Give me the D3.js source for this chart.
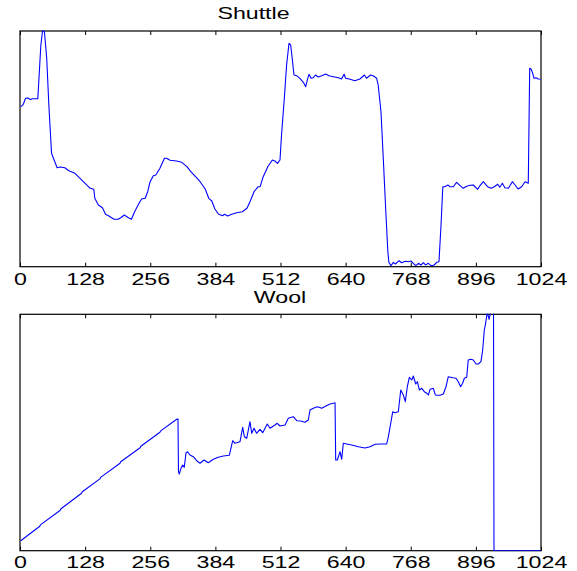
<!DOCTYPE html>
<html>
<head>
<meta charset="utf-8">
<script src="https://cdn.jsdelivr.net/npm/d3@7"></script>
<style>
  html, body { margin: 0; padding: 0; background: #fff; }
  svg { display: block; }
</style>
</head>
<body>
<svg id="chart" width="577" height="571"></svg>
<script>
// ---------------- data ----------------
const xTicks = [0, 128, 256, 384, 512, 640, 768, 896, 1024];
const panelTitles = ["Shuttle", "Wool"];

const shuttleX = [2, 6.5, 11, 16, 20, 24, 35, 41, 44.6, 48, 52.5, 57, 62, 67, 73, 79, 88, 96, 108, 118, 128, 138, 145, 147, 154, 162, 168, 174, 180, 185, 193, 198, 205, 213, 219, 226, 234, 239, 246, 251, 255.5, 262, 267, 275, 284, 288, 295, 308, 318, 328, 337, 347, 354, 364, 371, 377, 383, 390, 398, 402, 408, 416, 426, 437, 446, 452, 460, 468, 472, 478, 487, 496, 501, 506, 511, 514, 519.5, 524, 528.7, 532, 535, 538.5, 544, 550, 557, 561.5, 565.5, 568, 572, 576.5, 581, 586, 593, 601, 607, 616, 626, 632, 637, 640, 649, 658, 668, 677, 681, 689, 694, 701, 704, 709.5, 714, 719, 723, 725, 729, 734, 738, 745, 750, 757, 763, 768.5, 773, 778, 783, 788, 793, 797, 802.5, 808, 814, 819, 823.5, 827.5, 831, 835, 841, 845, 852, 858, 865, 871, 878, 884.5, 891, 899.6, 904, 910.6, 919, 926, 932, 939, 943, 948, 953, 960, 967.6, 973, 979, 986, 992.6, 999, 1000.4, 1001.8, 1004.4, 1007.7, 1010.3, 1014.2, 1018.7, 1023];
const shuttleY = [160, 162.4, 168.4, 168.7, 167, 168, 168, 221.7, 236.7, 235, 208.4, 158.7, 113.4, 106.7, 99, 99.7, 99, 96, 93.4, 88.4, 83.4, 78.4, 77.4, 68.4, 61.7, 59, 52.4, 51, 49, 47.4, 47.4, 49, 51.7, 49, 47.4, 55.7, 63.4, 67.7, 68.4, 75, 84.7, 91, 91.7, 98.4, 108.4, 108.4, 106.4, 105.7, 104.4, 100, 94.4, 89, 85, 77.7, 68.4, 65.7, 57.7, 52.7, 51, 52.4, 50.7, 52.4, 54, 55, 58.4, 65, 75, 80, 80, 90, 100, 106.7, 105.7, 103.4, 106.7, 131.7, 168.4, 201.7, 223.4, 221.7, 208.4, 191.7, 191, 188.4, 184.4, 180, 188.4, 192.4, 188.4, 189, 191.7, 189.7, 191, 192.7, 191, 190, 189, 187.7, 192.4, 188.4, 187.4, 186, 187.7, 191.7, 188.4, 191.7, 191, 188.4, 181.7, 155, 108.4, 55, 15, 4.4, 1, 4.4, 2.7, 6, 4, 5.4, 5, 5.7, 3.4, 1, 3.4, 1.7, 4, 1.7, 3.4, 1, 1.7, 4.4, 5, 41.7, 80, 80, 81.7, 80, 80, 84.4, 81, 78.4, 80.4, 81.4, 81.7, 77.4, 81, 85, 80, 78.4, 80, 82.4, 79.4, 83.4, 79, 78.4, 85, 81.7, 77.7, 80, 85, 83.4, 141.7, 198.4, 197.7, 193.4, 188.4, 189, 187.7, 187.4];

const woolX = [
  1.4, 39, 40, 78.6, 80, 121, 122.5, 157, 158.5, 196.6,
  198, 236, 237.5, 275, 276.5, 308, 310.5, 311.5, 313, 316.4,
  319.8, 322.9, 326.3, 329.6, 334, 340.6, 347.3, 353.8, 361.7, 370,
  380, 389.8, 399.6, 411.4, 418, 422.6, 432.4, 437.7, 441, 445.6,
  452, 455.4, 460, 465, 471.7, 477, 486, 491.4, 501, 505.7,
  511, 521, 527.3, 537, 544, 551.7, 560, 566.7, 570, 576.5,
  584.4, 593, 601.4, 608, 615.8, 619.2, 620.5, 623.7, 629, 632.3,
  635.5, 642, 652, 665, 678, 688, 698, 707.6, 720.8, 724,
  728.6, 732.6, 737, 743.6, 748.3, 753.4, 757.3, 761.3, 765.2, 770,
  773, 777.8, 781, 785, 789.6, 794.7, 799.5, 802.6, 806, 812.4,
  815.7, 817.7, 825.5, 832, 837.3, 841.8, 850.5, 857, 861.5, 866,
  870, 873.3, 878, 881, 886, 891, 896.3, 900.8, 906, 909.4,
  912.6, 914.6, 917.3, 918.5, 921.9, 925.2, 930.7, 931.6, 1024];
const woolY = [
  10, 24.5, 25.8, 40.2, 41.7, 57.5, 58.9, 71.8, 73.3, 87.4,
  88.9, 102.9, 104.4, 118.4, 119.8, 131.4, 131.8, 79, 76.7, 82.4,
  85.7, 83.4, 98, 99, 95.7, 94, 90, 87.4, 90.7, 88,
  91.4, 93.4, 94.7, 95.4, 110, 107.4, 109, 123.4, 114, 112.4,
  129, 117.4, 122.4, 117.4, 121.4, 118, 126.7, 122.4, 125.7, 127.4,
  124.7, 125.7, 132.4, 134, 130, 129.7, 128.4, 130.7, 140.7, 142.4,
  144, 142.4, 144.7, 146.4, 147.4, 148, 90.7, 90.7, 99, 91.4,
  107.4, 106.7, 105.7, 104, 102.7, 104, 106.4, 106.7, 106.7, 114,
  127.4, 139, 138, 139, 160.7, 155.7, 149, 164, 173.4, 170.7,
  174.7, 166.7, 169, 160.7, 162.4, 159, 157.4, 155.7, 161.4, 162.4,
  156.7, 155.4, 155.4, 156.7, 164, 174, 173, 172.4, 169, 164,
  167.4, 172.4, 173.4, 190.7, 191.4, 190.7, 186.7, 186.7, 189, 200.7,
  220.7, 225.7, 234.7, 238.7, 231.4, 238.7, 238.7, 0, 0];

// ---------------- layout ----------------
const svg = d3.select("#chart");
const left = 20, right = 541;
const stretch = 1.45;

const panels = [
  { title: panelTitles[0], xs: shuttleX, ys: shuttleY, top: 31, bottom: 266.7, yMax: 235.7, titleX: 253.5, titleY: 19, labelY: 285 },
  { title: panelTitles[1], xs: woolX, ys: woolY, top: 314.3, bottom: 550.7, yMax: 236.4, titleX: 280, titleY: 303, labelY: 568 }
];

panels.forEach((p, pi) => {
  const x = d3.scaleLinear().domain([0, 1024]).range([left, right]);
  const y = d3.scaleLinear().domain([0, p.yMax]).range([p.bottom, p.top]);

  const clipId = "clip" + pi;
  svg.append("clipPath").attr("id", clipId)
    .append("rect")
    .attr("x", left).attr("y", p.top - 0.6)
    .attr("width", right - left).attr("height", p.bottom - p.top + 1.2);

  // frame
  svg.append("rect")
    .attr("x", left).attr("y", p.top)
    .attr("width", right - left).attr("height", p.bottom - p.top)
    .attr("fill", "none").attr("stroke", "#000").attr("stroke-width", 1.2);

  // data line
  const pts = p.xs.map((d, i) => [d, p.ys[i]]);
  const line = d3.line().x(d => x(d[0])).y(d => y(d[1]));
  svg.append("path")
    .datum(pts)
    .attr("clip-path", `url(#${clipId})`)
    .attr("fill", "none")
    .attr("stroke", "#0000ff")
    .attr("stroke-width", 1.1)
    .attr("stroke-linejoin", "round")
    .attr("d", line);

  // bottom axis (ticks inside)
  const gb = svg.append("g")
    .attr("transform", `translate(0,${p.bottom})`)
    .call(d3.axisBottom(x).tickValues(xTicks).tickSize(-4).tickSizeOuter(0).tickPadding(0).tickFormat(d3.format("d")));
  gb.select(".domain").remove();
  gb.selectAll(".tick line").attr("stroke", "#000");
  gb.selectAll(".tick text")
    .attr("y", p.labelY - p.bottom)
    .attr("dy", 0)
    .attr("transform", `scale(${stretch},1)`)
    .attr("font-family", "'Liberation Sans', Arial, Helvetica, sans-serif")
    .attr("font-size", 16)
    .attr("fill", "#000");
  // top axis ticks (inside, no labels)
  const gt = svg.append("g")
    .attr("transform", `translate(0,${p.top})`)
    .call(d3.axisTop(x).tickValues(xTicks).tickSize(-4).tickSizeOuter(0).tickFormat(""));
  gt.select(".domain").remove();
  gt.selectAll(".tick line").attr("stroke", "#000");

  // title
  svg.append("text")
    .attr("transform", `translate(${p.titleX},${p.titleY}) scale(${stretch},1)`)
    .attr("text-anchor", "middle")
    .attr("font-family", "'Liberation Sans', Arial, Helvetica, sans-serif")
    .attr("font-size", 16)
    .attr("fill", "#000")
    .text(p.title);
});
</script>
</body>
</html>
